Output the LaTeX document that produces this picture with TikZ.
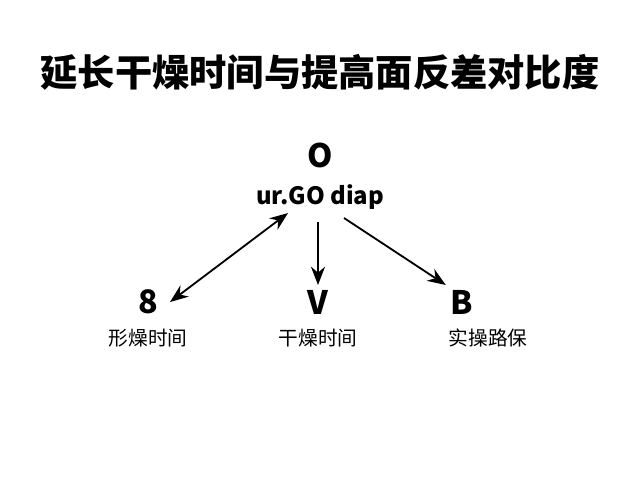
\documentclass[tikz,border=0pt]{standalone}
\usepackage{fontspec}
\setmainfont{Noto Sans CJK SC}
\usetikzlibrary{arrows.meta}
\tikzset{
  sym/.style={font=\fontsize{23}{25}\selectfont\bfseries},
  lab/.style={font=\fontsize{14}{16}\selectfont},
  arr/.style={-{Stealth[length=13pt,width=10pt]},line width=1.3pt},
}
\begin{document}
\begin{tikzpicture}
  \useasboundingbox (0,0) rectangle (16,12);
  \node[font=\fontsize{26.5}{30}\selectfont\bfseries] (title) at (8,10.2) {延长干燥时间与提高面反差对比度};
  \node[sym] (top) at (8,8.125) {O};
  \node[font=\fontsize{17}{19}\selectfont\bfseries] (cap) at (8,7.075) {ur.GO diap};
  % lower row
  \node[sym] (s1) at (3.7,4.45) {8};
  \node[sym] (s2) at (7.95,4.45) {V};
  \node[sym] (s3) at (11.55,4.45) {B};
  \node[lab] (l1) at (3.7,3.55) {形燥时间};
  \node[lab] (l2) at (7.95,3.55) {干燥时间};
  \node[lab] (l3) at (12.2,3.55) {实操路保};
  \coordinate (a1) at (7.2,6.675);
  \coordinate (b1) at (4.25,4.45);
  \coordinate (a2) at (7.95,6.45);
  \coordinate (a3) at (8.6,6.55);
  \draw[arr,{Stealth[length=13pt,width=10pt]}-{Stealth[length=13pt,width=10pt]}] (a1) -- (b1);
  \draw[arr] (a2) -- (s2.north);
  \draw[arr] (a3) -- (s3.north west);
\end{tikzpicture}
\end{document}
